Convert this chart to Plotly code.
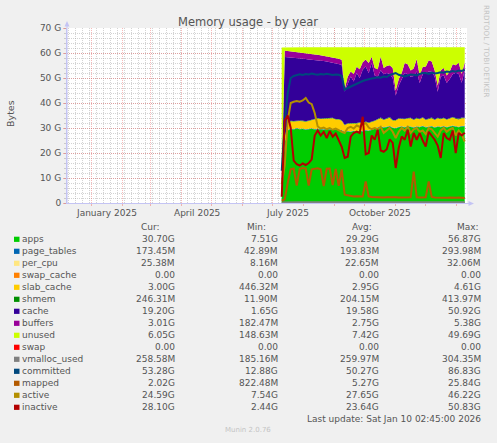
import plotly.graph_objects as go
import pandas as pd

# ---------------- data (values in GiB) ----------------
dates = pd.date_range("2025-07-10", periods=62, freq="3D")

apps = [7.5, 24.0, 29.0, 29.6, 29.4, 29.8, 29.5, 29.6, 29.3, 29.5,
        29.7, 29.4, 29.6, 29.5, 29.3, 29.6, 29.4, 29.5, 29.3, 29.2,
        29.0, 28.3, 28.6, 28.4, 28.8, 28.5, 28.9, 28.6, 29.0, 28.8,
        29.2, 29.5, 30.2, 30.5, 30.1, 30.4, 30.6, 30.0, 29.8, 30.3,
        30.5, 30.2, 30.6, 30.4, 30.1, 30.5, 30.3, 30.7, 30.2, 30.4,
        30.6, 30.1, 30.5, 30.3, 30.6, 30.2, 30.4, 30.8, 30.5, 30.3,
        30.6, 30.7]
page_tables = [0.043, 0.15, 0.18, 0.19, 0.2, 0.21, 0.2, 0.22, 0.21, 0.2,
               0.19, 0.21, 0.22, 0.2, 0.21, 0.2, 0.19, 0.2, 0.21, 0.2,
               0.19, 0.17, 0.18, 0.19, 0.2, 0.19, 0.18, 0.2, 0.19, 0.2,
               0.21, 0.19, 0.2, 0.22, 0.19, 0.2, 0.21, 0.19, 0.18, 0.2,
               0.19, 0.2, 0.21, 0.2, 0.19, 0.22, 0.2, 0.19, 0.2, 0.21,
               0.2, 0.19, 0.18, 0.2, 0.19, 0.2, 0.21, 0.19, 0.18, 0.19,
               0.18, 0.17]
per_cpu = [0.008, 0.02, 0.022, 0.023, 0.023, 0.022, 0.023, 0.024, 0.023, 0.022,
           0.023, 0.022, 0.023, 0.024, 0.023, 0.022, 0.023, 0.022, 0.023, 0.022,
           0.022, 0.021, 0.022, 0.023, 0.022, 0.023, 0.022, 0.023, 0.022, 0.023,
           0.023, 0.022, 0.023, 0.022, 0.023, 0.024, 0.023, 0.022, 0.023, 0.022,
           0.023, 0.022, 0.023, 0.024, 0.023, 0.022, 0.023, 0.022, 0.023, 0.024,
           0.023, 0.022, 0.023, 0.024, 0.025, 0.024, 0.025, 0.024, 0.025, 0.024,
           0.025, 0.025]
swap_cache = [0, 0, 0, 0, 0, 0, 0, 0, 0, 0,
              0, 0, 0, 0, 0, 0, 0, 0, 0, 0,
              0, 0, 0, 0, 0, 0, 0, 0, 0, 0,
              0, 0, 0, 0, 0, 0, 0, 0, 0, 0,
              0, 0, 0, 0, 0, 0, 0, 0, 0, 0,
              0, 0, 0, 0, 0, 0, 0, 0, 0, 0,
              0, 0]
slab_cache = [0.45, 2.0, 2.7, 2.9, 3.0, 2.8, 3.1, 2.9, 3.0, 3.1,
              3.2, 3.8, 4.0, 3.9, 4.1, 3.8, 4.0, 4.2, 3.9, 4.0,
              3.7, 2.6, 2.9, 3.0, 2.8, 3.1, 3.0, 2.9, 3.2, 3.0,
              2.9, 3.1, 3.0, 3.2, 2.9, 3.1, 3.3, 2.8, 3.0, 3.2,
              2.9, 3.1, 3.0, 3.3, 2.9, 3.1, 3.0, 3.2, 2.8, 3.0,
              3.1, 2.9, 3.2, 3.0, 3.1, 2.9, 3.0, 3.2, 3.0, 2.9,
              3.1, 3.0]
shmem = [0.012, 0.15, 0.19, 0.2, 0.21, 0.2, 0.22, 0.21, 0.2, 0.21,
         0.22, 0.21, 0.2, 0.21, 0.22, 0.2, 0.21, 0.22, 0.2, 0.21,
         0.2, 0.18, 0.19, 0.2, 0.21, 0.2, 0.19, 0.2, 0.21, 0.2,
         0.2, 0.21, 0.2, 0.22, 0.2, 0.21, 0.23, 0.2, 0.19, 0.21,
         0.2, 0.22, 0.21, 0.2, 0.22, 0.21, 0.2, 0.23, 0.21, 0.22,
         0.23, 0.22, 0.21, 0.24, 0.23, 0.22, 0.24, 0.23, 0.25, 0.24,
         0.25, 0.25]
cache = [1.65, 32.1, 26.2, 25.3, 25.2, 25.1, 24.8, 24.8, 24.9, 24.4,
         24.0, 23.5, 23.2, 23.1, 22.9, 22.8, 22.5, 22.0, 22.3, 22.0,
         22.2, 13.3, 16.1, 18.8, 16.6, 20.0, 17.7, 21.4, 22.0, 19.8,
         23.5, 18.0, 16.9, 18.9, 18.1, 18.1, 17.2, 16.8, 9.8, 13.1,
         15.7, 18.3, 17.5, 16.4, 17.4, 18.5, 14.3, 17.2, 18.6, 18.7,
         18.4, 17.1, 10.4, 16.8, 16.9, 14.5, 15.7, 17.1, 18.1, 17.9,
         13.9, 19.2]
buffers = [0.18, 2.5, 2.5, 2.4, 2.5, 2.3, 2.4, 2.3, 2.2, 2.4,
           2.2, 2.3, 2.1, 2.2, 2.1, 2.0, 2.2, 2.1, 2.0, 2.1,
           2.0, 1.0, 2.5, 2.0, 3.0, 2.5, 3.5, 3.0, 2.8, 4.0,
           2.5, 3.0, 3.0, 5.5, 2.5, 2.8, 3.5, 4.0, 2.0, 2.5,
           2.5, 4.0, 4.0, 2.5, 3.0, 5.0, 3.0, 3.0, 2.5, 4.5,
           4.0, 2.5, 2.5, 2.5, 3.0, 3.0, 3.0, 4.0, 3.0, 4.5,
           3.5, 3.0]
unused = [52.4, 1.3, 1.5, 1.7, 1.8, 1.9, 2.1, 2.3, 2.5, 2.5,
          2.8, 2.9, 3.0, 3.2, 3.5, 3.7, 3.8, 4.1, 4.4, 4.6,
          5.0, 16.7, 11.8, 9.7, 10.7, 7.8, 8.8, 6.0, 4.9, 6.3,
          3.8, 8.3, 8.8, 3.8, 8.3, 7.5, 7.3, 8.3, 17.3, 12.8,
          10.3, 6.3, 6.8, 9.3, 8.5, 4.8, 11.3, 7.8, 7.8, 5.3,
          5.8, 9.3, 15.3, 9.3, 8.3, 11.3, 9.8, 6.8, 7.3, 6.3,
          10.8, 6.0]
swap = [0, 0, 0, 0, 0, 0, 0, 0, 0, 0,
        0, 0, 0, 0, 0, 0, 0, 0, 0, 0,
        0, 0, 0, 0, 0, 0, 0, 0, 0, 0,
        0, 0, 0, 0, 0, 0, 0, 0, 0, 0,
        0, 0, 0, 0, 0, 0, 0, 0, 0, 0,
        0, 0, 0, 0, 0, 0, 0, 0, 0, 0,
        0, 0]
vmalloc_used = [0.185, 0.24, 0.25, 0.26, 0.26, 0.26, 0.27, 0.26, 0.26, 0.26,
                0.26, 0.27, 0.26, 0.26, 0.26, 0.26, 0.27, 0.26, 0.26, 0.26,
                0.26, 0.25, 0.25, 0.26, 0.26, 0.26, 0.26, 0.26, 0.26, 0.26,
                0.26, 0.26, 0.26, 0.26, 0.26, 0.27, 0.26, 0.26, 0.26, 0.26,
                0.26, 0.26, 0.26, 0.26, 0.26, 0.26, 0.26, 0.26, 0.26, 0.26,
                0.26, 0.26, 0.26, 0.26, 0.26, 0.26, 0.26, 0.26, 0.26, 0.26,
                0.26, 0.26]
committed = [12.9, 32.0, 44.0, 50.0, 50.8, 51.3, 51.5, 51.2, 51.6, 51.4,
             51.8, 51.5, 51.3, 51.6, 51.4, 51.7, 51.5, 51.2, 51.4, 51.3,
             50.8, 45.3, 46.0, 46.6, 47.2, 47.8, 48.4, 48.8, 49.2, 49.6,
             49.8, 50.0, 50.3, 50.1, 50.6, 50.4, 51.2, 51.6, 52.0, 51.3,
             50.8, 50.6, 51.0, 51.4, 51.3, 51.0, 51.6, 52.0, 52.0, 51.6,
             52.2, 51.8, 52.0, 52.3, 52.1, 52.6, 52.4, 52.8, 52.5, 53.0,
             52.8, 53.3]
mapped = [0.9, 1.5, 8.0, 13.5, 13.8, 7.0, 13.6, 14.0, 13.8, 7.0,
          13.5, 13.6, 13.9, 13.5, 6.8, 13.7, 13.8, 7.2, 13.6, 6.9,
          13.4, 3.3, 3.0, 2.8, 2.6, 2.7, 2.5, 2.6, 8.6, 2.6,
          2.4, 2.3, 2.4, 2.3, 2.2, 2.3, 2.4, 2.2, 2.3, 2.2,
          2.3, 2.2, 2.4, 2.3, 12.6, 2.3, 2.2, 2.1, 2.3, 8.6,
          2.4, 2.2, 2.1, 2.3, 2.2, 2.1, 2.2, 2.0, 2.1, 2.2,
          2.1, 2.0]
active = [7.5, 15.0, 33.0, 40.0, 40.5, 40.8, 40.5, 41.0, 42.0, 40.2,
          39.5, 36.0, 30.6, 29.8, 30.2, 29.5, 30.0, 29.3, 29.8, 29.0,
          28.5, 28.0, 30.0, 30.5, 29.8, 31.0, 30.5, 31.5, 32.0, 30.2,
          29.5, 30.0, 29.5, 30.5, 28.0, 29.0, 30.0, 28.5, 26.0, 28.5,
          30.0, 29.0, 30.5, 28.0, 29.5, 30.0, 28.5, 29.0, 27.5, 30.0,
          29.5, 28.0, 26.5, 29.0, 30.0, 28.5, 29.5, 30.0, 27.0, 29.0,
          27.5, 24.6]
inactive = [2.5, 33.0, 35.0, 30.0, 17.0, 15.5, 15.0, 15.8, 15.2, 16.0,
            17.5, 27.0, 29.0, 27.0, 28.5, 26.0, 28.8, 26.5, 27.8, 25.0,
            22.5, 18.0, 18.5, 26.5, 28.0, 28.6, 28.0, 34.5, 19.5, 20.0,
            27.0, 25.3, 29.3, 21.0, 20.5, 21.5, 25.5, 24.0, 14.0, 22.0,
            26.6, 25.3, 29.3, 22.6, 28.0, 25.3, 28.0, 25.0, 22.6, 28.5,
            27.0, 25.3, 23.0, 18.0, 28.0, 26.0, 25.3, 29.0, 20.0, 28.0,
            27.0, 28.1]

# legend table (text)
names = ["apps", "page_tables", "per_cpu", "swap_cache", "slab_cache", "shmem",
         "cache", "buffers", "unused", "swap", "vmalloc_used", "committed",
         "mapped", "active", "inactive"]
cur_txt = ["30.70G", "173.45M", "25.38M", "0.00", "3.00G", "246.31M", "19.20G",
           "3.01G", "6.05G", "0.00", "258.58M", "53.28G", "2.02G", "24.59G", "28.10G"]
min_txt = ["7.51G", "42.89M", "8.16M", "0.00", "446.32M", "11.90M", "1.65G",
           "182.47M", "148.63M", "0.00", "185.16M", "12.88G", "822.48M", "7.54G", "2.44G"]
avg_txt = ["29.29G", "193.83M", "22.65M", "0.00", "2.95G", "204.15M", "19.58G",
           "2.75G", "7.42G", "0.00", "259.97M", "50.27G", "5.27G", "27.65G", "23.64G"]
max_txt = ["56.87G", "293.98M", "32.06M", "0.00", "4.61G", "413.97M", "50.92G",
           "5.38G", "49.69G", "0.00", "304.35M", "86.83G", "25.84G", "46.22G", "50.83G"]

y_tick_vals = [0, 10, 20, 30, 40, 50, 60, 70]
y_tick_text = ["0", "10 G", "20 G", "30 G", "40 G", "50 G", "60 G", "70 G"]
x_label_dates = ["2025-01-16", "2025-04-16", "2025-07-16", "2025-10-16"]
x_label_text = ["January 2025", "April 2025", "July 2025", "October 2025"]

# ---------------- styling ----------------
colors = {
    "apps": "#00CC00", "page_tables": "#0066B3", "per_cpu": "#FFE680",
    "swap_cache": "#FF8000", "slab_cache": "#FFCC00", "shmem": "#008F00",
    "cache": "#330099", "buffers": "#990099", "unused": "#CCFF00",
    "swap": "#FF0000", "vmalloc_used": "#808080", "committed": "#00487D",
    "mapped": "#B35A00", "active": "#B38F00", "inactive": "#B30000",
}
series = {
    "apps": apps, "page_tables": page_tables, "per_cpu": per_cpu,
    "swap_cache": swap_cache, "slab_cache": slab_cache, "shmem": shmem,
    "cache": cache, "buffers": buffers, "unused": unused, "swap": swap,
    "vmalloc_used": vmalloc_used, "committed": committed, "mapped": mapped,
    "active": active, "inactive": inactive,
}
stacked = ["apps", "page_tables", "per_cpu", "swap_cache", "slab_cache", "shmem",
           "cache", "buffers", "unused", "swap"]
lines = ["vmalloc_used", "committed", "mapped", "active", "inactive"]

FONT = "DejaVu Sans"
TXT = "#555555"
W, H = 497, 443
L, R, T, B = 67, 30, 28, 240
PW, PH = W - L - R, H - T - B


def px(x):
    return (x - L) / PW


def py(y):
    return (H - B - y) / PH


fig = go.Figure()
for n in stacked:
    fig.add_trace(go.Scatter(
        x=dates, y=series[n], name=n, mode="lines", stackgroup="mem",
        line=dict(width=0, color=colors[n]), fillcolor=colors[n],
        hoverinfo="skip"))
for n in lines:
    fig.add_trace(go.Scatter(
        x=dates, y=series[n], name=n, mode="lines",
        line=dict(width=2, color=colors[n]), hoverinfo="skip"))

month_starts = pd.date_range("2025-01-01", "2026-01-01", freq="MS")
MAJ = "rgba(235,90,90,0.42)"
MIN = "rgba(140,140,140,0.38)"
AXIS = "#C4C4F4"

fig.update_layout(
    width=W, height=H, margin=dict(l=L, r=R, t=T, b=B, pad=0),
    paper_bgcolor="#F0F0F0", plot_bgcolor="#FFFFFF", showlegend=False,
    font=dict(family=FONT, size=9, color=TXT),
    xaxis=dict(
        type="date", range=["2024-12-07 07:00", "2026-01-11 07:00"],
        tickmode="array", tickvals=month_starts, showticklabels=False,
        ticks="outside", ticklen=2, tickcolor=MAJ,
        showgrid=True, gridcolor=MAJ, griddash="1px,1px", gridwidth=1,
        minor=dict(tickmode="linear", tick0="2024-12-09", dtick=7 * 86400000,
                   showgrid=True, gridcolor=MIN, griddash="1px,1px",
                   ticks=""),
        showline=True, linecolor=AXIS, linewidth=1, zeroline=False,
        fixedrange=True),
    yaxis=dict(
        range=[0, 70], tickmode="array", tickvals=y_tick_vals,
        ticktext=y_tick_text, ticks="outside", ticklen=3, tickcolor=MAJ,
        showgrid=True, gridcolor=MAJ, griddash="1px,1px",
        minor=dict(dtick=2, showgrid=True, gridcolor=MIN, griddash="1px,1px",
                   ticks="outside", ticklen=2, tickcolor=MIN),
        showline=True, linecolor=AXIS, linewidth=1, zeroline=False,
        tickfont=dict(family=FONT, size=9, color=TXT), fixedrange=True),
)

shapes = []
# axis arrows
shapes.append(dict(type="line", xref="paper", yref="paper",
                   x0=px(67), x1=px(67), y0=py(203), y1=py(23),
                   line=dict(color=AXIS, width=1)))
shapes.append(dict(type="path", xref="paper", yref="paper",
                   path=f"M {px(64.5)} {py(26.5)} L {px(69.5)} {py(26.5)} L {px(67)} {py(21)} Z",
                   fillcolor=AXIS, line=dict(color=AXIS, width=0)))
shapes.append(dict(type="line", xref="paper", yref="paper",
                   x0=px(67), x1=px(472), y0=py(203.5), y1=py(203.5),
                   line=dict(color=AXIS, width=1)))
shapes.append(dict(type="path", xref="paper", yref="paper",
                   path=f"M {px(468.5)} {py(201)} L {px(468.5)} {py(206)} L {px(474)} {py(203.5)} Z",
                   fillcolor=AXIS, line=dict(color=AXIS, width=0)))

ann = []


def text(x, y, s, size=9, color=TXT, xanchor="left", angle=0):
    ann.append(dict(x=px(x), y=py(y), xref="paper", yref="paper", text=s,
                    showarrow=False, xanchor=xanchor, yanchor="middle",
                    textangle=angle,
                    font=dict(family=FONT, size=size, color=color)))


text(248, 21.5, "Memory usage - by year", size=11.5, xanchor="center")
text(10, 114, "Bytes", size=9.5, xanchor="center", angle=-90)
text(487, 51, "RRDTOOL / TOBI OETIKER", size=7.2, color="#C4C4C4",
     xanchor="center", angle=90)

for d, s in zip(x_label_dates, x_label_text):
    ann.append(dict(x=d, y=py(213), xref="x", yref="paper", text=s,
                    showarrow=False, xanchor="center", yanchor="middle",
                    font=dict(family=FONT, size=9, color=TXT)))

for hx, h in zip([139, 245, 350, 455], ["Cur:", "Min:", "Avg:", "Max:"]):
    text(hx, 227.3, h)

row0, step = 239.3, 12.0
for i, n in enumerate(names):
    yy = row0 + i * step
    shapes.append(dict(type="rect", xref="paper", yref="paper",
                       x0=px(14), x1=px(19.5), y0=py(yy - 2.6), y1=py(yy + 2.6),
                       fillcolor=colors[n], line=dict(width=0)))
    text(20.3, yy, n)
    text(177, yy, cur_txt[i], xanchor="right")
    text(280, yy, min_txt[i], xanchor="right")
    text(381, yy, avg_txt[i], xanchor="right")
    text(482.5, yy, max_txt[i], xanchor="right")

text(482.5, 419.3, "Last update: Sat Jan 10 02:45:00 2026", xanchor="right")
text(248, 430.5, "Munin 2.0.76", size=7, color="#C4C4C4", xanchor="center")

fig.update_layout(shapes=shapes, annotations=ann)
fig.write_html("out.html", config={"displayModeBar": False},
               post_script="document.body.style.margin='0';document.body.style.padding='0';")
